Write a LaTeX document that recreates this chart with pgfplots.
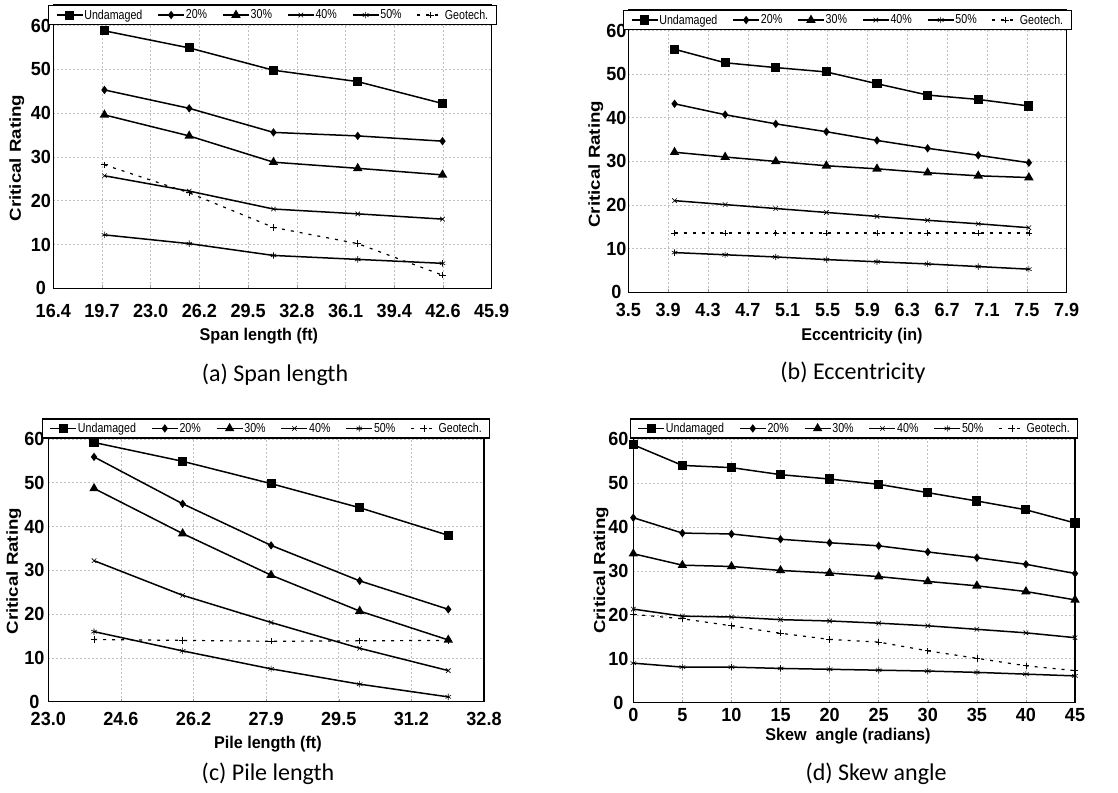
\documentclass[border=0pt]{standalone}
\usepackage{fontspec}
\usepackage{pgfplots}
\pgfplotsset{compat=1.18}
\newfontfamily\arialfam{Liberation Sans}
\newfontfamily\tickfam{Liberation Sans}[FakeStretch=0.95]
\newfontfamily\arialnarrow{Liberation Sans}[FakeStretch=0.82]
\newfontfamily\xlabfam{Liberation Sans}[FakeStretch=0.95]
\newfontfamily\capfam{Carlito}
\newcommand\tickfont{\tickfam\bfseries\fontsize{19}{19}\selectfont}
\newcommand\labfont{\xlabfam\bfseries\fontsize{17}{17}\selectfont}
\newcommand\ylabfont{\arialfam\bfseries\fontsize{18.7}{18.7}\selectfont}
\newcommand\legfont{\arialnarrow\fontsize{13}{13}\selectfont}
\newcommand\capfont{\capfam\fontsize{24}{24}\selectfont}
\tikzset{
  und/.style={black, line width=1.5pt, mark=square*, mark size=3.8pt, mark options={solid}},
  p20/.style={black, line width=1.5pt, mark=diamond*, mark size=3pt, mark options={solid}},
  p30/.style={black, line width=1.5pt, mark=triangle*, mark size=4pt, mark options={solid}},
  p40/.style={black, line width=1.5pt, mark=x, mark size=3.2pt, mark options={solid, line width=0.6pt}},
  p50/.style={black, line width=1.5pt, mark=asterisk, mark size=3.2pt, mark options={solid, line width=0.6pt}},
  geo/.style={black, line width=1.2pt, dash pattern=on 3pt off 6pt, mark=+, mark size=3.2pt, mark options={solid, line width=0.7pt}},
}
\pgfplotsset{
  panel/.style={
    scale only axis,
    anchor=south west,
    ymin=0, ymax=64.7,
    ytick={0,10,...,60},
    yticklabels={0,10,20,30,40,50,60},
    /pgf/number format/assume math mode=true,
    grid=major,
    major grid style={dash pattern=on 2pt off 2pt, black!25, line width=0.6pt},
    axis line style={line width=1.4pt},
    tick style={black!40, line width=0.5pt},
    major tick length=3pt,
    ytick style={draw=none},
    ticklabel style={font=\tickfont, inner sep=0pt},
    label style={font=\labfont},
    ylabel={\scalebox{1}[0.85]{Critical Rating}},
    clip mode=individual,
    legend columns=6,
    legend cell align=left,
    legend style={at={(0.5,1)}, anchor=north, draw=black, line width=1.2pt, fill=white,
      font=\legfont, inner xsep=7pt, inner ysep=1.5pt,
      /tikz/every even column/.append style={column sep=14pt},
      nodes={inner xsep=1pt, inner ysep=2.5pt}},
    legend image code/.code={\draw[mark repeat=2,mark phase=2,##1] plot coordinates {(0pt,0pt) (13pt,0pt) (26pt,0pt)};},
  },
}
\begin{document}
\begin{tikzpicture}
\useasboundingbox (0,0) rectangle (1118pt,792pt);
% (a) Span length
\begin{axis}[panel, at={(53.3pt,503.7pt)}, width=438.4pt, height=283.3pt,
  xmin=5, xmax=14, xtick={5,...,14},
  xticklabels={16.4,19.7,23.0,26.2,29.5,32.8,36.1,39.4,42.6,45.9},
  xticklabel style={anchor=center, yshift=-23pt},
  yticklabel style={anchor=center, xshift=-12.5pt},
  xlabel={Span length (ft)},
  xlabel style={at={(axis description cs:0.469,0)}, anchor=center, yshift=-48pt},
  ylabel style={font=\ylabfont, at={(axis description cs:-0.083,0.46)}, anchor=center}]
\addplot[und] coordinates {(6.05,58.8) (7.79,54.9) (9.52,49.8) (11.25,47.2) (12.99,42.2)};
\addlegendentry{Undamaged}
\addplot[p20] coordinates {(6.05,45.3) (7.79,41.1) (9.52,35.6) (11.25,34.8) (12.99,33.6)};
\addlegendentry{20\%}
\addplot[p30] coordinates {(6.05,39.6) (7.79,34.8) (9.52,28.8) (11.25,27.4) (12.99,25.9)};
\addlegendentry{30\%}
\addplot[p40] coordinates {(6.05,25.7) (7.79,22.2) (9.52,18.1) (11.25,17.0) (12.99,15.8)};
\addlegendentry{40\%}
\addplot[p50] coordinates {(6.05,12.2) (7.79,10.2) (9.52,7.5) (11.25,6.6) (12.99,5.7)};
\addlegendentry{50\%}
\addplot[geo] coordinates {(6.05,28.2) (7.79,21.8) (9.52,13.9) (11.25,10.2) (12.99,3.0)};
\addlegendentry{Geotech.}
\end{axis}
% (b) Eccentricity
\begin{axis}[panel, at={(628.3pt,499.7pt)}, width=438.4pt, height=282.3pt,
  xmin=9, xmax=20, xtick={9,...,20},
  xticklabels={3.5,3.9,4.3,4.7,5.1,5.5,5.9,6.3,6.7,7.1,7.5,7.9},
  xticklabel style={anchor=center, yshift=-18pt},
  yticklabel style={anchor=center, xshift=-12pt},
  xlabel={Eccentricity (in)},
  xlabel style={at={(axis description cs:0.533,0)}, anchor=center, yshift=-44pt},
  ylabel style={font=\ylabfont, at={(axis description cs:-0.074,0.454)}, anchor=center}]
\addplot[und] coordinates {(10.16,55.7) (11.43,52.6) (12.70,51.5) (13.97,50.5) (15.24,47.8) (16.51,45.2) (17.78,44.2) (19.05,42.7)};
\addlegendentry{Undamaged}
\addplot[p20] coordinates {(10.16,43.2) (11.43,40.7) (12.70,38.6) (13.97,36.8) (15.24,34.8) (16.51,33.0) (17.78,31.4) (19.05,29.7)};
\addlegendentry{20\%}
\addplot[p30] coordinates {(10.16,32.1) (11.43,31.0) (12.70,30.0) (13.97,29.0) (15.24,28.3) (16.51,27.4) (17.78,26.7) (19.05,26.3)};
\addlegendentry{30\%}
\addplot[p40] coordinates {(10.16,21.0) (11.43,20.1) (12.70,19.2) (13.97,18.3) (15.24,17.4) (16.51,16.5) (17.78,15.7) (19.05,14.8)};
\addlegendentry{40\%}
\addplot[p50] coordinates {(10.16,9.1) (11.43,8.6) (12.70,8.1) (13.97,7.5) (15.24,7.0) (16.51,6.5) (17.78,5.9) (19.05,5.3)};
\addlegendentry{50\%}
\addplot[geo] coordinates {(10.16,13.6) (11.43,13.6) (12.70,13.6) (13.97,13.6) (15.24,13.6) (16.51,13.6) (17.78,13.6) (19.05,13.6)};
\addlegendentry{Geotech.}
\end{axis}
% (c) Pile length
\begin{axis}[panel, at={(48.3pt,90.3pt)}, width=435.7pt, height=283.3pt,
  xmin=7, xmax=10, xtick={7,7.5,8,8.5,9,9.5,10},
  xticklabels={23.0,24.6,26.2,27.9,29.5,31.2,32.8},
  xticklabel style={anchor=center, yshift=-17pt},
  yticklabel style={anchor=center, xshift=-14pt},
  xlabel={Pile length (ft)},
  xlabel style={at={(axis description cs:0.504,0)}, anchor=center, yshift=-42pt},
  ylabel style={font=\ylabfont, at={(axis description cs:-0.079,0.461)}, anchor=center}]
\addplot[und] coordinates {(7.315,59.2) (7.925,54.9) (8.534,49.8) (9.144,44.3) (9.754,38.0)};
\addlegendentry{Undamaged}
\addplot[p20] coordinates {(7.315,55.9) (7.925,45.2) (8.534,35.7) (9.144,27.6) (9.754,21.1)};
\addlegendentry{20\%}
\addplot[p30] coordinates {(7.315,48.7) (7.925,38.4) (8.534,28.9) (9.144,20.7) (9.754,14.1)};
\addlegendentry{30\%}
\addplot[p40] coordinates {(7.315,32.2) (7.925,24.3) (8.534,18.1) (9.144,12.2) (9.754,7.1)};
\addlegendentry{40\%}
\addplot[p50] coordinates {(7.315,16.0) (7.925,11.6) (8.534,7.5) (9.144,4.0) (9.754,1.1)};
\addlegendentry{50\%}
\addplot[geo] coordinates {(7.315,14.2) (7.925,14.0) (8.534,13.8) (9.144,13.9) (9.754,14.0)};
\addlegendentry{Geotech.}
\end{axis}
% (d) Skew angle
\begin{axis}[panel, at={(633.3pt,89.3pt)}, width=441.7pt, height=284.3pt,
  xmin=0, xmax=45, xtick={0,5,...,45},
  xticklabels={0,5,10,15,20,25,30,35,40,45},
  xticklabel style={anchor=center, yshift=-12pt},
  yticklabel style={anchor=center, xshift=-15pt},
  xlabel={Skew~ angle (radians)},
  xlabel style={at={(axis description cs:0.486,0)}, anchor=center, yshift=-33pt},
  ylabel style={font=\ylabfont, at={(axis description cs:-0.073,0.465)}, anchor=center}]
\addplot[und] coordinates {(0,58.7) (5,54.0) (10,53.5) (15,51.9) (20,50.9) (25,49.7) (30,47.8) (35,45.9) (40,43.9) (45,40.9)};
\addlegendentry{Undamaged}
\addplot[p20] coordinates {(0,42.1) (5,38.6) (10,38.4) (15,37.2) (20,36.4) (25,35.7) (30,34.3) (35,33.0) (40,31.5) (45,29.4)};
\addlegendentry{20\%}
\addplot[p30] coordinates {(0,33.9) (5,31.3) (10,31.0) (15,30.1) (20,29.5) (25,28.7) (30,27.6) (35,26.6) (40,25.3) (45,23.4)};
\addlegendentry{30\%}
\addplot[p40] coordinates {(0,21.3) (5,19.7) (10,19.5) (15,18.9) (20,18.6) (25,18.1) (30,17.5) (35,16.7) (40,15.9) (45,14.8)};
\addlegendentry{40\%}
\addplot[p50] coordinates {(0,9.0) (5,8.1) (10,8.1) (15,7.8) (20,7.6) (25,7.4) (30,7.2) (35,6.9) (40,6.5) (45,6.1)};
\addlegendentry{50\%}
\addplot[geo] coordinates {(0,20.1) (5,19.1) (10,17.5) (15,15.8) (20,14.4) (25,13.8) (30,11.8) (35,10.1) (40,8.4) (45,7.3)};
\addlegendentry{Geotech.}
\end{axis}
\node[font=\capfont] at (275pt,417.5pt) {(a) Span length};
\node[font=\capfont] at (853pt,419.5pt) {(b) Eccentricity};
\node[font=\capfont] at (268pt,18.5pt) {(c) Pile length};
\node[font=\capfont] at (876pt,18pt) {(d) Skew angle};
\end{tikzpicture}
\end{document}
